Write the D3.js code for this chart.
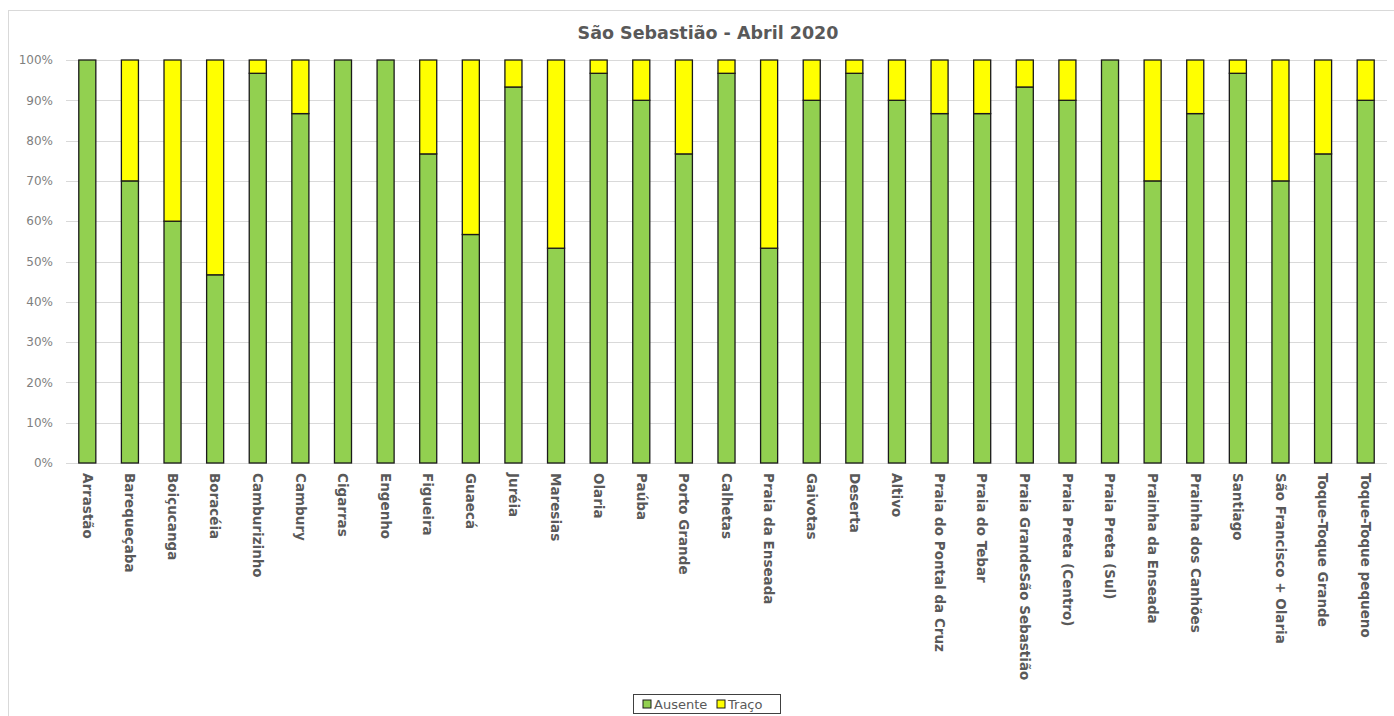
<!DOCTYPE html>
<html>
<head>
<meta charset="utf-8">
<script src="https://cdn.jsdelivr.net/npm/d3@7"></script>
<style>
  body { margin: 0; background: #fff; }
  svg { display: block; font-family: "DejaVu Sans", sans-serif; }
</style>
</head>
<body>
<div id="chart"></div>
<script>
// Categories (beaches) and share of samples per class
const beaches = [
    'Arrastão', 'Barequeçaba', 'Boiçucanga', 'Boracéia', 'Camburizinho', 'Cambury',
    'Cigarras', 'Engenho', 'Figueira', 'Guaecá', 'Juréia', 'Maresias', 'Olaria',
    'Paúba', 'Porto Grande', 'Calhetas', 'Praia da Enseada', 'Gaivotas', 'Deserta',
    'Altivo', 'Praia do Pontal da Cruz', 'Praia do Tebar', 'Praia GrandeSão Sebastião',
    'Praia Preta (Centro)', 'Praia Preta (Sul)', 'Prainha da Enseada',
    'Prainha dos Canhões', 'Santiago', 'São Francisco + Olaria', 'Toque-Toque Grande',
    'Toque-Toque pequeno'
];
const ausente = [100, 70, 60, 46.7, 96.7, 86.7, 100, 100, 76.7, 56.7, 93.3, 53.3, 96.7,
    90, 76.7, 96.7, 53.3, 90, 96.7, 90, 86.7, 86.7, 93.3, 90, 100, 70, 86.7, 96.7, 70, 76.7, 90];
const traco = [0, 30, 40, 53.3, 3.3, 13.3, 0, 0, 23.3, 43.3, 6.7, 46.7, 3.3,
    10, 23.3, 3.3, 46.7, 10, 3.3, 10, 13.3, 13.3, 6.7, 10, 0, 30, 13.3, 3.3, 30, 23.3, 10];
const seriesNames = ['Ausente', 'Traço'];
const seriesColors = ['#92d050', '#ffff00'];
const yTicks = [0, 10, 20, 30, 40, 50, 60, 70, 80, 90, 100];

const width = 1394, height = 716;
const margin = { top: 60, left: 66, right: 7, bottom: 253 };

const svg = d3.select('#chart').append('svg')
    .attr('width', width)
    .attr('height', height);

// Chart border
svg.append('rect')
    .attr('x', 8.5).attr('y', 10.5)
    .attr('width', width).attr('height', height)
    .attr('fill', 'none')
    .attr('stroke', '#d9d9d9');

// Title
svg.append('text')
    .attr('x', 708).attr('y', 39)
    .attr('text-anchor', 'middle')
    .attr('font-size', '17.5px')
    .attr('font-weight', 'bold')
    .attr('fill', '#595959')
    .text('São Sebastião - Abril 2020');

const x = d3.scaleBand()
    .domain(beaches)
    .range([margin.left, width - margin.right])
    .paddingInner(0.6)
    .paddingOuter(0.3);

const y = d3.scaleLinear()
    .domain([0, 100])
    .range([height - margin.bottom, margin.top]);

// Gridlines
svg.append('g')
    .selectAll('line')
    .data(yTicks)
    .enter()
    .append('line')
    .attr('x1', margin.left)
    .attr('x2', width - margin.right)
    .attr('y1', d => Math.round(y(d)) + 0.5)
    .attr('y2', d => Math.round(y(d)) + 0.5)
    .attr('stroke', '#d9d9d9');

// Y axis labels
svg.append('g')
    .selectAll('text')
    .data(yTicks)
    .enter()
    .append('text')
    .attr('x', 53)
    .attr('y', d => y(d))
    .attr('dy', '.35em')
    .attr('text-anchor', 'end')
    .attr('font-size', '12px')
    .attr('fill', '#7f7f7f')
    .text(d => d + '%');

// Stacked bars
const rows = beaches.map((b, i) => ({ beach: b, Ausente: ausente[i], 'Traço': traco[i] }));
const stacked = d3.stack().keys(seriesNames)(rows);

svg.append('g')
    .selectAll('g')
    .data(stacked)
    .enter()
    .append('g')
    .attr('fill', (d, i) => seriesColors[i])
    .selectAll('rect')
    .data(d => d.filter(s => s[1] - s[0] > 0))
    .enter()
    .append('rect')
    .attr('x', d => x(d.data.beach))
    .attr('y', d => y(d[1]))
    .attr('width', x.bandwidth())
    .attr('height', d => y(d[0]) - y(d[1]))
    .attr('stroke', '#1a1a1a')
    .attr('stroke-width', 1.3);

// Category labels, rotated
svg.append('g')
    .selectAll('text')
    .data(beaches)
    .enter()
    .append('text')
    .attr('transform', d => `translate(${x(d) + x.bandwidth() / 2},${height - margin.bottom + 10}) rotate(90)`)
    .attr('dy', '.35em')
    .attr('font-size', '13.5px')
    .attr('font-weight', 'bold')
    .attr('fill', '#595959')
    .text(d => d);

// Legend
const legend = svg.append('g').attr('transform', 'translate(633, 694)');
legend.append('rect')
    .attr('x', 0.5).attr('y', 0.5)
    .attr('width', 147).attr('height', 19)
    .attr('fill', '#fff')
    .attr('stroke', '#404040');

const items = [{ x: 10, label: 'Ausente' }, { x: 84, label: 'Traço' }];
items.forEach((item, i) => {
    const g = legend.append('g').attr('transform', `translate(${item.x}, 10)`);
    g.append('rect')
        .attr('x', 0).attr('y', -4)
        .attr('width', 8).attr('height', 8)
        .attr('fill', seriesColors[i])
        .attr('stroke', '#1a1a1a');
    g.append('text')
        .attr('x', 11)
        .attr('dy', '.35em')
        .attr('font-size', '13px')
        .attr('fill', '#595959')
        .text(item.label);
});
</script>
</body>
</html>
